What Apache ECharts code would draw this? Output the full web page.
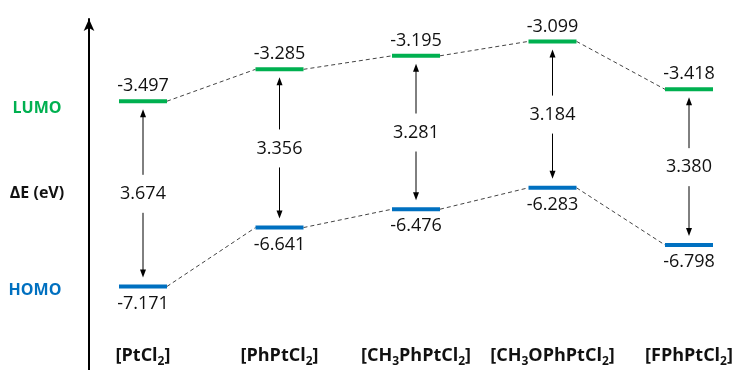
<!DOCTYPE html>
<html>
<head>
<meta charset="utf-8">
<script src="https://cdn.jsdelivr.net/npm/echarts@6.0.0/dist/echarts.min.js"></script>
<style>
  html, body { margin: 0; padding: 0; background: #fff; }
  #chart { width: 745px; height: 370px; }
</style>
</head>
<body>
<div id="chart"></div>
<script>
// ---- data ----
const categories = ['[PtCl2]', '[PhPtCl2]', '[CH3PhPtCl2]', '[CH3OPhPtCl2]', '[FPhPtCl2]'];
const lumo = [-3.497, -3.285, -3.195, -3.099, -3.418];
const homo = [-7.171, -6.641, -6.476, -6.283, -6.798];
const gaps = [3.674, 3.356, 3.281, 3.184, 3.380];
const sideLabels = ['LUMO', 'ΔE (eV)', 'HOMO'];

// ---- styles ----
const GREEN = '#00B050';
const BLUE = '#0070C0';
const TEXT = '#111111';
const FONT = '"Open Sans", "DejaVu Sans", sans-serif';
const BAR_W = 48, BAR_H = 4;

const chart = echarts.init(document.getElementById('chart'), null, { renderer: 'canvas' });

function subFormat(s) {
  return s.split(/(\d)/).filter(p => p !== '').map(p => /^\d$/.test(p) ? '{s|' + p + '}' : '{n|' + p + '}').join('');
}

function levelRenderer(color, above) {
  return function (params, api) {
    const p = api.coord([api.value(0), api.value(1)]);
    const v = api.value(1);
    return {
      type: 'group',
      children: [
        { type: 'rect', shape: { x: p[0] - BAR_W / 2, y: p[1] - BAR_H / 2, width: BAR_W, height: BAR_H }, style: { fill: color } },
        { type: 'text', x: p[0], y: p[1] + (above ? -15 : 17),
          style: { text: v.toFixed(3), font: '18px ' + FONT, fill: TEXT, align: 'center', verticalAlign: 'middle', textAlign: 'center', textVerticalAlign: 'middle' } }
      ]
    };
  };
}

function connectorRenderer(params, api) {
  const a = api.coord([api.value(0), api.value(1)]);
  const b = api.coord([api.value(2), api.value(3)]);
  return {
    type: 'line',
    shape: { x1: a[0] + BAR_W / 2, y1: a[1], x2: b[0] - BAR_W / 2, y2: b[1] },
    style: { stroke: '#444', lineWidth: 1, lineDash: [4, 3] }
  };
}

function arrowRenderer(params, api) {
  const i = api.value(0);
  const top = api.coord([i, api.value(1)]);
  let bot;
  try {
    bot = chart.convertToPixel({ xAxisIndex: 0, yAxisIndex: 1 }, [i, api.value(2)]);
  } catch (e) { return null; }
  if (!bot || isNaN(bot[1])) return null;
  const x = top[0];
  const y1 = top[1] + 8, y2 = bot[1] - 9, mid = (top[1] + bot[1]) / 2;
  const head = 8, hw = 3;
  const st = { stroke: '#000', lineWidth: 1 };
  return {
    type: 'group',
    children: [
      { type: 'line', shape: { x1: x, y1: y1 + head - 1, x2: x, y2: mid - 19 }, style: st },
      { type: 'polygon', shape: { points: [[x, y1], [x - hw, y1 + head], [x + hw, y1 + head]] }, style: { fill: '#000' } },
      { type: 'line', shape: { x1: x, y1: mid + 19, x2: x, y2: y2 - head + 1 }, style: st },
      { type: 'polygon', shape: { points: [[x, y2], [x - hw, y2 - head], [x + hw, y2 - head]] }, style: { fill: '#000' } },
      { type: 'text', x: x, y: mid,
        style: { text: api.value(3).toFixed(3), font: '18px ' + FONT, fill: TEXT, align: 'center', verticalAlign: 'middle', textAlign: 'center', textVerticalAlign: 'middle' } }
    ]
  };
}

const lumoData = lumo.map((v, i) => [i, v]);
const homoData = homo.map((v, i) => [i, v]);
const lumoLinks = lumo.slice(0, -1).map((v, i) => [i, v, i + 1, lumo[i + 1]]);
const homoLinks = homo.slice(0, -1).map((v, i) => [i, v, i + 1, homo[i + 1]]);
const arrowData = lumo.map((v, i) => [i, v, homo[i], gaps[i]]);

const option = {
  animation: false,
  backgroundColor: '#fff',
  grid: { left: 143, right: 56, top: 19, bottom: 0, containLabel: false },
  xAxis: {
    type: 'category',
    data: categories,
    boundaryGap: false,
    axisLine: { show: false },
    axisTick: { show: false },
    splitLine: { show: false },
    axisLabel: {
      interval: 0,
      margin: -26,
      formatter: subFormat,
      rich: {
        n: { fontSize: 18, fontWeight: 'bold', fontFamily: FONT, color: TEXT, lineHeight: 24 },
        s: { fontSize: 12, fontWeight: 'bold', fontFamily: FONT, color: TEXT, lineHeight: 14, verticalAlign: 'bottom' }
      }
    }
  },
  yAxis: [
    {
      type: 'value', min: -5.286, max: -2.950, position: 'left', offset: 54,
      axisLine: { show: true, lineStyle: { color: '#000', width: 2 }, symbol: ['none', 'arrow'], symbolSize: [8, 12] },
      axisTick: { show: false }, axisLabel: { show: false }, splitLine: { show: false }
    },
    {
      type: 'value', min: -7.923, max: -4.764, show: false,
      axisLine: { show: false }, axisTick: { show: false }, axisLabel: { show: false }, splitLine: { show: false }
    }
  ],
  graphic: [
    { type: 'text', x: 37, y: 108, style: { text: sideLabels[0], font: 'bold 16px ' + FONT, fill: GREEN, align: 'center', verticalAlign: 'middle', textAlign: 'center', textVerticalAlign: 'middle' } },
    { type: 'text', x: 37, y: 193, style: { text: sideLabels[1], font: 'bold 16px ' + FONT, fill: TEXT, align: 'center', verticalAlign: 'middle', textAlign: 'center', textVerticalAlign: 'middle' } },
    { type: 'text', x: 35, y: 290, style: { text: sideLabels[2], font: 'bold 16px ' + FONT, fill: BLUE, align: 'center', verticalAlign: 'middle', textAlign: 'center', textVerticalAlign: 'middle' } }
  ],
  series: [
    { name: 'LUMO links', type: 'custom', yAxisIndex: 0, data: lumoLinks, renderItem: connectorRenderer, encode: { x: [0, 2], y: [1, 3] }, silent: true },
    { name: 'HOMO links', type: 'custom', yAxisIndex: 1, data: homoLinks, renderItem: connectorRenderer, encode: { x: [0, 2], y: [1, 3] }, silent: true },
    { name: 'LUMO', type: 'custom', yAxisIndex: 0, data: lumoData, renderItem: levelRenderer(GREEN, true), encode: { x: 0, y: 1 }, silent: true },
    { name: 'HOMO', type: 'custom', yAxisIndex: 1, data: homoData, renderItem: levelRenderer(BLUE, false), encode: { x: 0, y: 1 }, silent: true },
    { name: 'Gap', type: 'custom', yAxisIndex: 0, data: arrowData, renderItem: arrowRenderer, encode: { x: 0, y: 1 }, silent: true }
  ]
};

chart.setOption(option);
chart.setOption(option);
</script>
</body>
</html>
